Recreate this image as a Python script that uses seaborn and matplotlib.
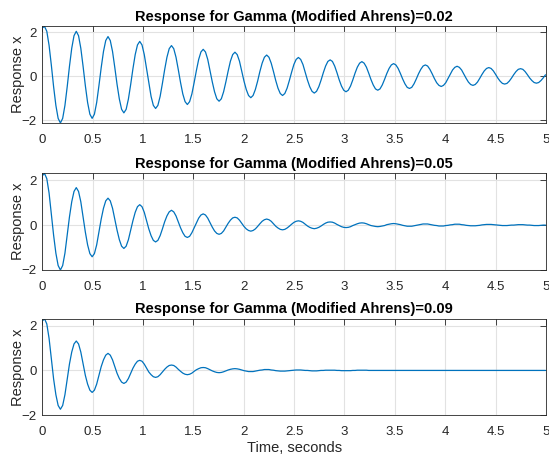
import numpy as np
import matplotlib
matplotlib.use("Agg")
import matplotlib.pyplot as plt
import seaborn as sns

# sample times (s)
time_s = [
    0.0, 0.0225, 0.045, 0.0675, 0.09, 0.1125, 0.135, 0.1575,
    0.18, 0.2025, 0.225, 0.2475, 0.27, 0.2925, 0.315, 0.3375,
    0.36, 0.3825, 0.405, 0.4275, 0.45, 0.4725, 0.495, 0.5175,
    0.54, 0.5625, 0.585, 0.6075, 0.63, 0.6525, 0.675, 0.6975,
    0.72, 0.7425, 0.765, 0.7875, 0.81, 0.8325, 0.855, 0.8775,
    0.9, 0.9225, 0.945, 0.9675, 0.99, 1.0125, 1.035, 1.0575,
    1.08, 1.1025, 1.125, 1.1475, 1.17, 1.1925, 1.215, 1.2375,
    1.26, 1.2825, 1.305, 1.3275, 1.35, 1.3725, 1.395, 1.4175,
    1.44, 1.4625, 1.485, 1.5075, 1.53, 1.5525, 1.575, 1.5975,
    1.62, 1.6425, 1.665, 1.6875, 1.71, 1.7325, 1.755, 1.7775,
    1.8, 1.8225, 1.845, 1.8675, 1.89, 1.9125, 1.935, 1.9575,
    1.98, 2.0025, 2.025, 2.0475, 2.07, 2.0925, 2.115, 2.1375,
    2.16, 2.1825, 2.205, 2.2275, 2.25, 2.2725, 2.295, 2.3175,
    2.34, 2.3625, 2.385, 2.4075, 2.43, 2.4525, 2.475, 2.4975,
    2.52, 2.5425, 2.565, 2.5875, 2.61, 2.6325, 2.655, 2.6775,
    2.7, 2.7225, 2.745, 2.7675, 2.79, 2.8125, 2.835, 2.8575,
    2.88, 2.9025, 2.925, 2.9475, 2.97, 2.9925, 3.015, 3.0375,
    3.06, 3.0825, 3.105, 3.1275, 3.15, 3.1725, 3.195, 3.2175,
    3.24, 3.2625, 3.285, 3.3075, 3.33, 3.3525, 3.375, 3.3975,
    3.42, 3.4425, 3.465, 3.4875, 3.51, 3.5325, 3.555, 3.5775,
    3.6, 3.6225, 3.645, 3.6675, 3.69, 3.7125, 3.735, 3.7575,
    3.78, 3.8025, 3.825, 3.8475, 3.87, 3.8925, 3.915, 3.9375,
    3.96, 3.9825, 4.005, 4.0275, 4.05, 4.0725, 4.095, 4.1175,
    4.14, 4.1625, 4.185, 4.2075, 4.23, 4.2525, 4.275, 4.2975,
    4.32, 4.3425, 4.365, 4.3875, 4.41, 4.4325, 4.455, 4.4775,
    4.5, 4.5225, 4.545, 4.5675, 4.59, 4.6125, 4.635, 4.6575,
    4.68, 4.7025, 4.725, 4.7475, 4.77, 4.7925, 4.815, 4.8375,
    4.86, 4.8825, 4.905, 4.9275, 4.95, 4.9725, 4.995,
]

# response for gamma = 0.02
x_g002 = [
    2.20, 2.27,
    2.05, 1.41, 0.51, -0.47, -1.32, -1.91, -2.12,
    -1.91, -1.32, -0.47, 0.46, 1.28, 1.85, 2.05,
    1.85, 1.28, 0.46, -0.42, -1.19, -1.72, -1.91,
    -1.72, -1.19, -0.42, 0.40, 1.13, 1.63, 1.81,
    1.63, 1.13, 0.40, -0.37, -1.03, -1.50, -1.66,
    -1.50, -1.03, -0.37, 0.35, 0.99, 1.43, 1.59,
    1.43, 0.99, 0.35, -0.32, -0.91, -1.32, -1.46,
    -1.32, -0.91, -0.32, 0.31, 0.87, 1.26, 1.40,
    1.26, 0.87, 0.31, -0.28, -0.80, -1.15, -1.28,
    -1.15, -0.80, -0.28, 0.27, 0.77, 1.11, 1.23,
    1.11, 0.77, 0.27, -0.25, -0.70, -1.02, -1.13,
    -1.02, -0.70, -0.25, 0.24, 0.69, 0.99, 1.10,
    0.99, 0.69, 0.24, -0.22, -0.60, -0.87, -0.97,
    -0.87, -0.60, -0.22, 0.22, 0.60, 0.87, 0.97,
    0.87, 0.60, 0.22, -0.19, -0.54, -0.78, -0.87,
    -0.78, -0.54, -0.19, 0.19, 0.54, 0.77, 0.86,
    0.77, 0.54, 0.19, -0.17, -0.47, -0.68, -0.76,
    -0.68, -0.47, -0.17, 0.17, 0.47, 0.68, 0.75,
    0.68, 0.47, 0.17, -0.16, -0.44, -0.63, -0.70,
    -0.63, -0.44, -0.16, 0.15, 0.42, 0.60, 0.67,
    0.60, 0.42, 0.15, -0.14, -0.39, -0.57, -0.63,
    -0.57, -0.39, -0.14, 0.13, 0.36, 0.52, 0.58,
    0.52, 0.36, 0.13, -0.12, -0.34, -0.50, -0.55,
    -0.50, -0.34, -0.12, 0.12, 0.32, 0.47, 0.52,
    0.47, 0.32, 0.12, -0.10, -0.29, -0.41, -0.46,
    -0.41, -0.29, -0.10, 0.10, 0.29, 0.41, 0.46,
    0.41, 0.29, 0.10, -0.09, -0.26, -0.37, -0.41,
    -0.37, -0.26, -0.09, 0.09, 0.25, 0.36, 0.40,
    0.36, 0.25, 0.09, -0.08, -0.22, -0.32, -0.35,
    -0.32, -0.22, -0.08, 0.08, 0.22, 0.32, 0.35,
    0.32, 0.22, 0.08, -0.07, -0.19, -0.28, -0.31,
    -0.28, -0.19, -0.07, 0.07,
]

# response for gamma = 0.05
x_g005 = [
    2.20, 2.30,
    2.07, 1.43, 0.51, -0.45, -1.25, -1.80, -2.00,
    -1.80, -1.25, -0.45, 0.37, 1.04, 1.50, 1.67,
    1.50, 1.04, 0.37, -0.31, -0.88, -1.27, -1.41,
    -1.27, -0.88, -0.31, 0.27, 0.75, 1.08, 1.20,
    1.08, 0.75, 0.27, -0.23, -0.65, -0.94, -1.04,
    -0.94, -0.65, -0.23, 0.20, 0.57, 0.82, 0.91,
    0.82, 0.57, 0.20, -0.17, -0.47, -0.68, -0.75,
    -0.68, -0.47, -0.17, 0.15, 0.41, 0.59, 0.66,
    0.59, 0.41, 0.15, -0.12, -0.34, -0.50, -0.55,
    -0.50, -0.34, -0.12, 0.11, 0.31, 0.45, 0.50,
    0.45, 0.31, 0.11, -0.09, -0.26, -0.37, -0.41,
    -0.37, -0.26, -0.09, 0.08, 0.22, 0.32, 0.35,
    0.32, 0.22, 0.08, -0.06, -0.17, -0.24, -0.27,
    -0.24, -0.17, -0.06, 0.06, 0.17, 0.24, 0.27,
    0.24, 0.17, 0.06, -0.05, -0.13, -0.19, -0.21,
    -0.19, -0.13, -0.05, 0.04, 0.12, 0.17, 0.19,
    0.17, 0.12, 0.04, -0.04, -0.10, -0.14, -0.16,
    -0.14, -0.10, -0.04, 0.03, 0.09, 0.13, 0.14,
    0.13, 0.09, 0.03, -0.02, -0.07, -0.10, -0.11,
    -0.10, -0.07, -0.02, 0.02, 0.06, 0.09, 0.10,
    0.09, 0.06, 0.02, -0.02, -0.04, -0.06, -0.07,
    -0.06, -0.04, -0.02, 0.02, 0.04, 0.06, 0.07,
    0.06, 0.04, 0.02, -0.01, -0.03, -0.05, -0.05,
    -0.05, -0.03, -0.01, 0.01, 0.03, 0.05, 0.05,
    0.05, 0.03, 0.01, -0.01, -0.02, -0.04, -0.04,
    -0.04, -0.02, -0.01, 0.01, 0.02, 0.04, 0.04,
    0.04, 0.02, 0.01, -0.01, -0.02, -0.03, -0.03,
    -0.03, -0.02, -0.01, 0.01, 0.02, 0.03, 0.03,
    0.03, 0.02, 0.01, 0.00, -0.01, -0.02, -0.02,
    -0.02, -0.01, 0.00, 0.00, 0.01, 0.02, 0.02,
    0.02, 0.01, 0.00, 0.00, -0.01, -0.02, -0.02,
    -0.02, -0.01, 0.00, 0.00,
]

# response for gamma = 0.09
x_g009 = [
    2.20, 2.30,
    2.07, 1.43, 0.51, -0.38, -1.08, -1.56, -1.73,
    -1.56, -1.08, -0.38, 0.29, 0.82, 1.18, 1.31,
    1.18, 0.82, 0.29, -0.22, -0.61, -0.88, -0.98,
    -0.88, -0.61, -0.22, 0.17, 0.47, 0.68, 0.76,
    0.68, 0.47, 0.17, -0.13, -0.36, -0.52, -0.58,
    -0.52, -0.36, -0.13, 0.10, 0.28, 0.41, 0.45,
    0.41, 0.28, 0.10, -0.07, -0.19, -0.28, -0.31,
    -0.28, -0.19, -0.07, 0.05, 0.15, 0.22, 0.24,
    0.22, 0.15, 0.05, -0.04, -0.12, -0.17, -0.19,
    -0.17, -0.12, -0.04, 0.03, 0.08, 0.12, 0.13,
    0.12, 0.08, 0.03, -0.02, -0.06, -0.09, -0.10,
    -0.09, -0.06, -0.02, 0.02, 0.05, 0.07, 0.08,
    0.07, 0.05, 0.02, -0.01, -0.03, -0.05, -0.05,
    -0.05, -0.03, -0.01, 0.01, 0.02, 0.04, 0.04,
    0.04, 0.02, 0.01, -0.01, -0.02, -0.03, -0.03,
    -0.03, -0.02, -0.01, 0.00, 0.01, 0.02, 0.02,
    0.02, 0.01, 0.00, 0.00, -0.01, -0.02, -0.02,
    -0.02, -0.01, 0.00, 0.00, 0.01, 0.01, 0.01,
    0.01, 0.01, 0.00, 0.00, -0.01, -0.01, -0.01,
    -0.01, -0.01, 0.00, 0.00, 0.01, 0.01, 0.01,
    0.01, 0.01, 0.00, 0.00, 0.00, 0.00, 0.00,
    0.00, 0.00, 0.00, 0.00, 0.00, 0.00, 0.00,
    0.00, 0.00, 0.00, 0.00, 0.00, 0.00, 0.00,
    0.00, 0.00, 0.00, 0.00, 0.00, 0.00, 0.00,
    0.00, 0.00, 0.00, 0.00, 0.00, 0.00, 0.00,
    0.00, 0.00, 0.00, 0.00, 0.00, 0.00, 0.00,
    0.00, 0.00, 0.00, 0.00, 0.00, 0.00, 0.00,
    0.00, 0.00, 0.00, 0.00, 0.00, 0.00, 0.00,
    0.00, 0.00, 0.00, 0.00, 0.00, 0.00, 0.00,
    0.00, 0.00, 0.00, 0.00, 0.00, 0.00, 0.00,
    0.00, 0.00, 0.00, 0.00, 0.00, 0.00, 0.00,
    0.00, 0.00, 0.00, 0.00,
]

gammas = ["0.02", "0.05", "0.09"]
responses = [x_g002, x_g005, x_g009]
y_limits = [(-2.12, 2.27), (-2.0, 2.3), (-2.0, 2.3)]
x_ticks = [0, 0.5, 1, 1.5, 2, 2.5, 3, 3.5, 4, 4.5, 5]
x_tick_labels = ["0", "0.5", "1", "1.5", "2", "2.5", "3", "3.5", "4", "4.5", "5"]
y_ticks = [-2, 0, 2]

for r in responses:
    assert len(r) == len(time_s)

sns.set_style("white")
plt.rcParams["font.family"] = ["Liberation Sans", "DejaVu Sans"]

dark = "#262626"
line_blue = "#0072BD"

fig = plt.figure(figsize=(5.49, 4.57), dpi=100)
bottoms = [0.7309, 0.4092, 0.0912]

for i, (g, resp, ylim) in enumerate(zip(gammas, responses, y_limits)):
    ax = fig.add_axes([0.077, bottoms[i], 0.9175, 0.2112])
    sns.lineplot(x=time_s, y=resp, ax=ax, color=line_blue, linewidth=0.9)
    ax.set_xlim(0, 5)
    ax.set_ylim(*ylim)
    ax.set_xticks(x_ticks)
    ax.set_xticklabels(x_tick_labels)
    ax.set_yticks(y_ticks)
    ax.grid(True, color="#e2e2e2", linewidth=0.8)
    ax.set_axisbelow(True)
    ax.tick_params(direction="in", top=True, right=True, length=4, width=0.6,
                   colors=dark, labelsize=9.5)
    ax.tick_params(axis="x", pad=8)
    ax.tick_params(axis="y", pad=4)
    for s in ax.spines.values():
        s.set_color(dark)
        s.set_linewidth(0.6)
    ax.set_title(f"Response for Gamma (Modified Ahrens)={g}",
                 fontsize=10.5, fontweight="bold", color="black", pad=4)
    ax.set_ylabel("Response x", fontsize=10.5, color=dark)
    ax.yaxis.set_label_coords(-0.034, 0.5)
    if i == 2:
        ax.set_xlabel("Time, seconds", fontsize=10.5, color=dark, labelpad=1.5)
    else:
        ax.set_xlabel("")

fig.savefig("out.png", dpi=100)
plt.close(fig)
